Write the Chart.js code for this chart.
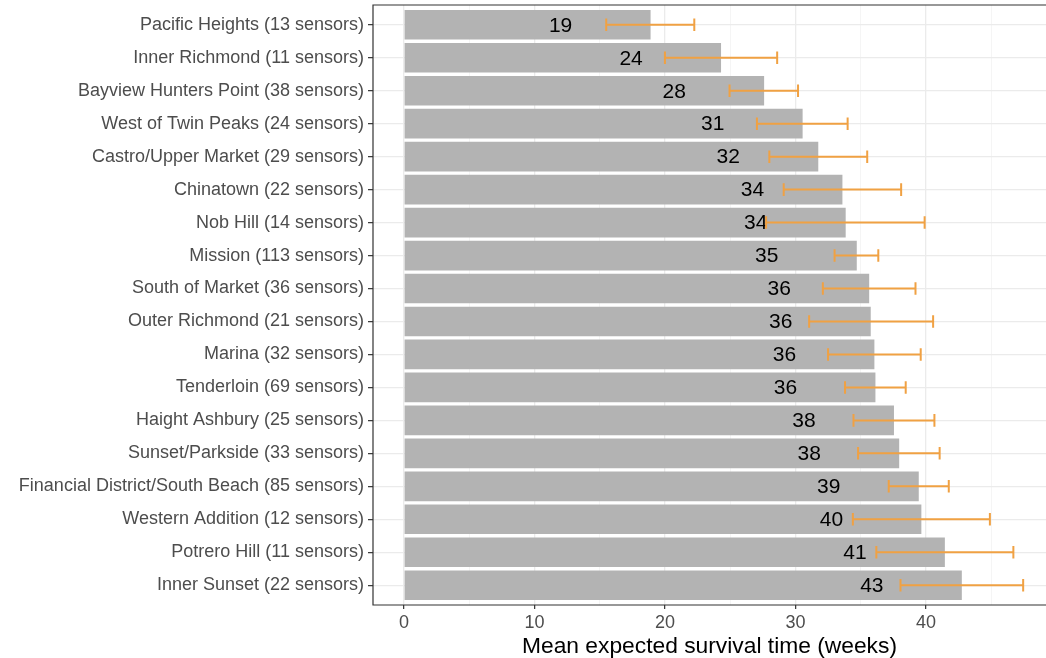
<!DOCTYPE html>
<html>
<head>
<meta charset="utf-8">
<script src="https://cdn.jsdelivr.net/npm/chart.js@4/dist/chart.umd.min.js"></script>
<style>
    html, body { margin: 0; padding: 0; background: #ffffff; overflow: hidden; }
    #chart { display: block; }
</style>
</head>
<body>
<canvas id="chart" width="1046" height="658"></canvas>
<script>
// DATA
const neighborhoods = [
    "Pacific Heights", "Inner Richmond", "Bayview Hunters Point", "West of Twin Peaks",
    "Castro/Upper Market", "Chinatown", "Nob Hill", "Mission", "South of Market",
    "Outer Richmond", "Marina", "Tenderloin", "Haight Ashbury", "Sunset/Parkside",
    "Financial District/South Beach", "Western Addition", "Potrero Hill", "Inner Sunset",
];
const sensorCounts = [13, 11, 38, 24, 29, 22, 14, 113, 36, 21, 32, 69, 25, 33, 85, 12, 11, 22];
const meanWeeks = [18.9, 24.3, 27.6, 30.55, 31.75, 33.6, 33.85, 34.7, 35.65, 35.77, 36.05, 36.13, 37.55, 37.95, 39.45, 39.65, 41.45, 42.75];
const lowerWeeks = [15.5, 20.0, 24.95, 27.05, 28.0, 29.1, 27.75, 33.0, 32.1, 31.05, 32.5, 33.8, 34.45, 34.8, 37.15, 34.4, 36.2, 38.05];
const upperWeeks = [22.25, 28.6, 30.2, 34.0, 35.5, 38.1, 39.9, 36.35, 39.2, 40.55, 39.6, 38.45, 40.65, 41.05, 41.75, 44.9, 46.7, 47.45];
const xMajorTicks = [0, 10, 20, 30, 40];
const xMinorTicks = [5, 15, 25, 35, 45];

const categoryLabels = neighborhoods.map((n, i) => `${n} (${sensorCounts[i]} sensors)`);

const FONT = "'Liberation Sans', Arial, Helvetica, sans-serif";
const ERROR_COLOR = "#f0a143";

// value labels, then error bars on top
const overlayPlugin = {
    id: "overlay",
    afterDatasetsDraw(chart) {
        const ctx = chart.ctx;
        const xs = chart.scales.x;
        const ys = chart.scales.y;
        ctx.save();

        ctx.font = `21px ${FONT}`;
        ctx.fillStyle = "#000000";
        ctx.textAlign = "right";
        ctx.textBaseline = "middle";
        meanWeeks.forEach((m, i) => {
            ctx.fillText(String(Math.round(m)), xs.getPixelForValue(m - 6), ys.getPixelForValue(i) + 1);
        });

        ctx.strokeStyle = ERROR_COLOR;
        ctx.lineWidth = 2;
        lowerWeeks.forEach((lo, i) => {
            const y = ys.getPixelForValue(i);
            const cap = Math.abs(ys.getPixelForValue(i + 0.19) - y);
            const x1 = xs.getPixelForValue(lo);
            const x2 = xs.getPixelForValue(upperWeeks[i]);
            ctx.beginPath();
            ctx.moveTo(x1, y);
            ctx.lineTo(x2, y);
            ctx.moveTo(x1, y - cap);
            ctx.lineTo(x1, y + cap);
            ctx.moveTo(x2, y - cap);
            ctx.lineTo(x2, y + cap);
            ctx.stroke();
        });
        ctx.restore();
    },
    afterDraw(chart) {
        // PANEL BORDER (right side runs off the picture)
        const a = chart.chartArea;
        const ctx = chart.ctx;
        ctx.save();
        ctx.strokeStyle = "#333333";
        ctx.lineWidth = 1.2;
        ctx.beginPath();
        ctx.moveTo(chart.width, a.top);
        ctx.lineTo(a.left, a.top);
        ctx.lineTo(a.left, a.bottom);
        ctx.lineTo(chart.width, a.bottom);
        ctx.stroke();
        ctx.restore();
    },
};

new Chart(document.getElementById("chart"), {
    type: "bar",
    data: {
        datasets: [{
            data: meanWeeks.map((m, i) => ({ x: m, y: i })),
            backgroundColor: "#b3b3b3",
            barPercentage: 0.9,
            categoryPercentage: 1.0,
        }],
    },
    options: {
        indexAxis: "y",
        responsive: false,
        animation: false,
        layout: { padding: { top: 5, right: 0, bottom: 0, left: 0 } },
        plugins: {
            legend: { display: false },
            tooltip: { enabled: false },
        },
        scales: {
            x: {
                type: "linear",
                min: -2.37,
                max: 49.2,
                offset: false,
                afterFit: (s) => {
                    s.height = 53;
                    s.paddingLeft = 0;
                    s.paddingRight = 0;
                },
                afterBuildTicks: (s) => {
                    s.ticks = [...xMajorTicks, ...xMinorTicks].sort((a, b) => a - b).map(v => ({ value: v }));
                },
                border: { display: false },
                grid: {
                    offset: false,
                    color: (c) => xMajorTicks.includes(c.tick.value) ? "#ebebeb" : "#f2f2f2",
                    lineWidth: (c) => xMajorTicks.includes(c.tick.value) ? 1.3 : 0.8,
                    tickColor: (c) => xMajorTicks.includes(c.tick.value) ? "#333333" : "rgba(0,0,0,0)",
                    tickLength: 4,
                    tickWidth: 1.2,
                },
                ticks: {
                    autoSkip: false,
                    maxRotation: 0,
                    padding: 3,
                    color: "#4d4d4d",
                    font: { family: FONT, size: 18 },
                    callback: (v) => xMajorTicks.includes(v) ? String(v) : "",
                },
                title: {
                    display: true,
                    text: "Mean expected survival time (weeks)",
                    color: "#000000",
                    font: { family: FONT, size: 22.8 },
                    padding: { top: 2, bottom: -2 },
                },
            },
            y: {
                type: "linear",
                reverse: true,
                min: -0.6,
                max: 17.6,
                offset: false,
                afterFit: (s) => {
                    s.width = 373;
                    s.paddingTop = 0;
                    s.paddingBottom = 0;
                },
                afterBuildTicks: (s) => {
                    s.ticks = categoryLabels.map((_, i) => ({ value: i }));
                },
                border: { display: false },
                grid: {
                    offset: false,
                    color: "#ebebeb",
                    lineWidth: 1.3,
                    tickColor: "#333333",
                    tickLength: 5,
                    tickWidth: 1.2,
                },
                ticks: {
                    autoSkip: false,
                    padding: 4,
                    color: "#4d4d4d",
                    font: { family: FONT, size: 18 },
                    callback: (v) => categoryLabels[v],
                },
            },
        },
    },
    plugins: [overlayPlugin],
});
</script>
</body>
</html>
